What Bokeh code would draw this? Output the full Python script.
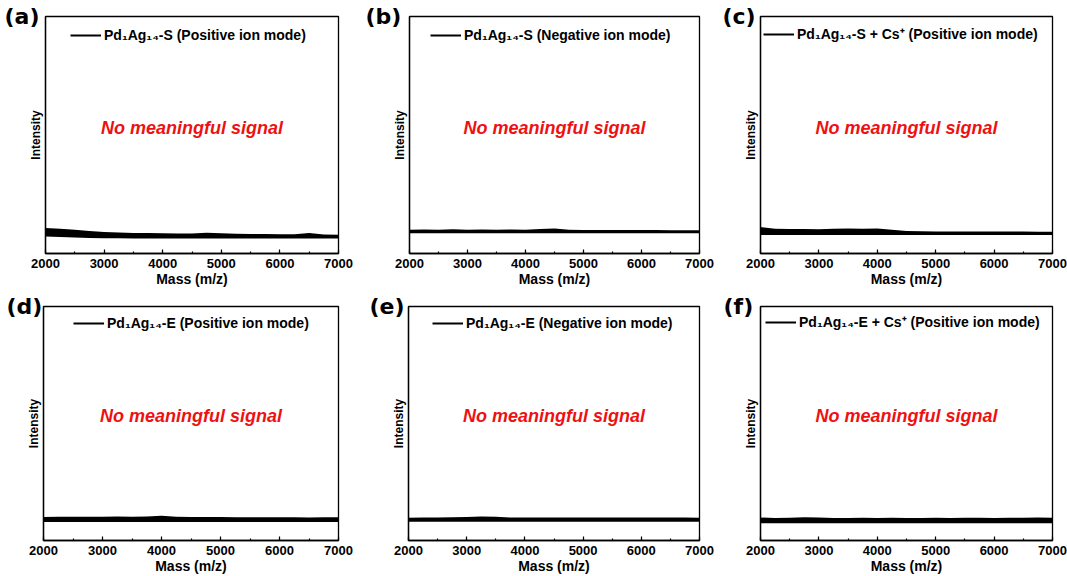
from bokeh.plotting import figure
from bokeh.layouts import column, row
from bokeh.models import (Range1d, SingleIntervalTicker, FixedTicker, Legend,
                          LegendItem, Title, ColumnDataSource)
from bokeh.embed import file_html
from bokeh.resources import INLINE
from bokeh.core.properties import value

# ---------------- data ----------------
mass = [2000, 2250, 2500, 2750, 3000, 3250, 3500, 3750, 4000, 4250, 4500,
        4750, 5000, 5250, 5500, 5750, 6000, 6250, 6500, 6750, 7000]

a_upper = [10.8, 10.4, 10.0, 9.5, 9.1, 8.9, 8.7, 8.6, 8.5, 8.4, 8.4,
           8.8, 8.5, 8.3, 8.2, 8.2, 8.1, 8.1, 8.6, 8.0, 7.9]
a_lower = [7.6, 7.4, 7.2, 7.0, 6.9, 6.9, 6.8, 6.8, 6.8, 6.8, 6.8,
           6.8, 6.8, 6.8, 6.8, 6.8, 6.8, 6.8, 6.8, 6.8, 6.7]

b_upper = [10.0, 10.1, 10.0, 10.2, 10.0, 10.1, 10.0, 10.1, 10.0, 10.3, 10.6,
           10.0, 9.9, 9.9, 9.9, 9.9, 9.9, 9.9, 9.8, 9.8, 9.8]
b_lower = [9.0, 9.0, 9.0, 9.0, 9.0, 9.0, 9.0, 9.0, 9.0, 9.0, 9.0,
           9.0, 9.0, 9.0, 9.0, 9.0, 9.0, 9.0, 9.0, 9.0, 9.0]

c_upper = [11.2, 10.4, 10.3, 10.3, 10.2, 10.4, 10.6, 10.4, 10.6, 10.0, 9.5,
           9.4, 9.3, 9.3, 9.3, 9.3, 9.3, 9.3, 9.3, 9.2, 9.2]
c_lower = [8.2, 8.2, 8.2, 8.2, 8.2, 8.2, 8.2, 8.2, 8.2, 8.2, 8.2,
           8.2, 8.2, 8.2, 8.2, 8.2, 8.2, 8.2, 8.2, 8.2, 8.2]

d_upper = [10.0, 10.1, 10.2, 10.1, 10.2, 10.3, 10.2, 10.3, 10.6, 10.1, 10.0,
           10.0, 10.0, 9.9, 9.9, 9.9, 9.9, 9.9, 9.8, 9.9, 9.9]
d_lower = [8.3, 8.3, 8.3, 8.3, 8.3, 8.3, 8.3, 8.3, 8.3, 8.3, 8.3,
           8.3, 8.3, 8.3, 8.3, 8.3, 8.3, 8.3, 8.3, 8.3, 8.3]

e_upper = [9.7, 9.8, 9.8, 9.9, 10.0, 10.3, 10.2, 9.8, 9.8, 9.8, 9.8,
           9.8, 9.8, 9.8, 9.8, 9.8, 9.8, 9.8, 9.8, 9.8, 9.7]
e_lower = [8.4, 8.4, 8.4, 8.4, 8.4, 8.4, 8.4, 8.4, 8.4, 8.4, 8.4,
           8.4, 8.4, 8.4, 8.4, 8.4, 8.4, 8.4, 8.4, 8.4, 8.4]

f_upper = [9.8, 9.6, 9.7, 9.9, 9.8, 9.6, 9.6, 9.7, 9.6, 9.7, 9.6,
           9.6, 9.7, 9.6, 9.7, 9.7, 9.6, 9.7, 9.7, 9.8, 9.7]
f_lower = [7.8, 7.8, 7.8, 7.8, 7.8, 7.8, 7.8, 7.8, 7.8, 7.8, 7.8,
           7.8, 7.8, 7.8, 7.8, 7.8, 7.8, 7.8, 7.8, 7.8, 7.8]

panel_letters = ["(a)", "(b)", "(c)", "(d)", "(e)", "(f)"]
legend_labels = [
    "Pd\u2081Ag\u2081\u2084-S (Positive ion mode)",
    "Pd\u2081Ag\u2081\u2084-S (Negative ion mode)",
    "Pd\u2081Ag\u2081\u2084-S + Cs\u207a (Positive ion mode)",
    "Pd\u2081Ag\u2081\u2084-E (Positive ion mode)",
    "Pd\u2081Ag\u2081\u2084-E (Negative ion mode)",
    "Pd\u2081Ag\u2081\u2084-E + Cs\u207a (Positive ion mode)",
]
note_text = "No meaningful signal"
x_axis_label = "Mass (m/z)"
y_axis_label = "Intensity"

uppers = [a_upper, b_upper, c_upper, d_upper, e_upper, f_upper]
lowers = [a_lower, b_lower, c_lower, d_lower, e_lower, f_lower]

# ---------------- layout / style ----------------
FONT = "Liberation Sans"
X0, X1, Y0, Y1 = 2000, 7000, 0, 100
# (width, height, border_left, border_right, border_top, border_bottom)
geom = [
    (364, 290, 45, 26, 16, 37),
    (356, 290, 45, 21, 16, 37),
    (347, 290, 40, 15, 16, 37),
    (364, 286, 43, 26, 16, 36),
    (356, 286, 44, 21, 16, 36),
    (347, 286, 40, 15, 16, 36),
]
# legend offsets (x from frame left, y from frame top to sample centre)
leg_pos = [(25, 19), (21, 19), (3, 19), (30, 17), (24, 17), (5, 17)]
# panel letter: horizontal offset of its left edge from the frame's left edge
let_off = [-41, -44, -38, -37, -39, -37]

figs = []
for i in range(6):
    w, h, bl, br, bt, bb = geom[i]
    p = figure(width=w, height=h, output_backend="svg", toolbar_location=None,
               x_range=Range1d(X0, X1), y_range=Range1d(Y0, Y1),
               min_border_left=bl, min_border_right=br,
               min_border_top=bt, min_border_bottom=bb)
    frame_h = h - bt - bb
    p.background_fill_color = "white"
    p.border_fill_color = "white"
    p.outline_line_color = "black"
    p.outline_line_width = 1.3
    p.outline_line_alpha = 1.0
    p.xgrid.visible = False
    p.ygrid.visible = False

    xa = p.xaxis[0]
    xa.ticker = SingleIntervalTicker(interval=1000, num_minor_ticks=2)
    xa.axis_label = x_axis_label
    xa.axis_label_text_font = FONT
    xa.axis_label_text_font_style = "bold"
    xa.axis_label_text_font_size = "14px"
    xa.axis_label_text_color = "black"
    xa.axis_label_standoff = 0
    xa.major_label_text_font = FONT
    xa.major_label_text_font_style = "bold"
    xa.major_label_text_font_size = "13px"
    xa.major_label_text_color = "black"
    xa.major_label_standoff = 5
    xa.major_tick_in = 4
    xa.major_tick_out = 0
    xa.minor_tick_in = 2
    xa.minor_tick_out = 0
    xa.axis_line_color = "black"
    xa.axis_line_width = 1.3
    xa.major_tick_line_color = "black"
    xa.major_tick_line_width = 1.2
    xa.minor_tick_line_color = "black"
    xa.minor_tick_line_width = 1.2

    ya = p.yaxis[0]
    ya.ticker = FixedTicker(ticks=[])
    ya.axis_label = y_axis_label
    ya.axis_label_text_font = FONT
    ya.axis_label_text_font_style = "bold"
    ya.axis_label_text_font_size = "12px"
    ya.axis_label_text_color = "black"
    ya.axis_label_standoff = 3
    ya.major_label_text_font_size = "0px"
    ya.major_tick_line_color = None
    ya.minor_tick_line_color = None
    ya.axis_line_color = "black"
    ya.axis_line_width = 1.3

    src = ColumnDataSource(dict(mass=mass, upper=uppers[i], lower=lowers[i]))
    p.varea(x="mass", y1="lower", y2="upper", source=src,
            fill_color="black", fill_alpha=1.0)
    ln = p.line(x="mass", y="lower", source=src, line_color="black",
                line_width=2)

    p.text(x=[4500], y=[53], text=[note_text],
           text_font=value(FONT), text_font_style="bold italic",
           text_font_size="18px", text_color="#ee1111",
           text_align="center", text_baseline="middle")

    lx, ly = leg_pos[i]
    gh = 16
    legend = Legend(items=[LegendItem(label=legend_labels[i], renderers=[ln])],
                    location=(lx, frame_h - ly - gh / 2),
                    border_line_color=None, background_fill_alpha=0,
                    padding=0, margin=0, spacing=0,
                    glyph_width=31, glyph_height=gh, label_height=gh,
                    label_standoff=3, label_text_font=FONT,
                    label_text_font_style="bold",
                    label_text_font_size="14px", label_text_color="black")
    p.add_layout(legend)

    # panel letter as a title pulled down beside the frame's top-left corner
    p.add_layout(Title(text=panel_letters[i], align="left", offset=let_off[i],
                       standoff=-25, vertical_align="bottom",
                       text_font="DejaVu Sans", text_font_style="bold",
                       text_font_size="22px", text_color="black"), "above")
    figs.append(p)

layout = column(row(figs[0], figs[1], figs[2]), row(figs[3], figs[4], figs[5]))
open("out.html", "w").write(file_html(layout, INLINE))
